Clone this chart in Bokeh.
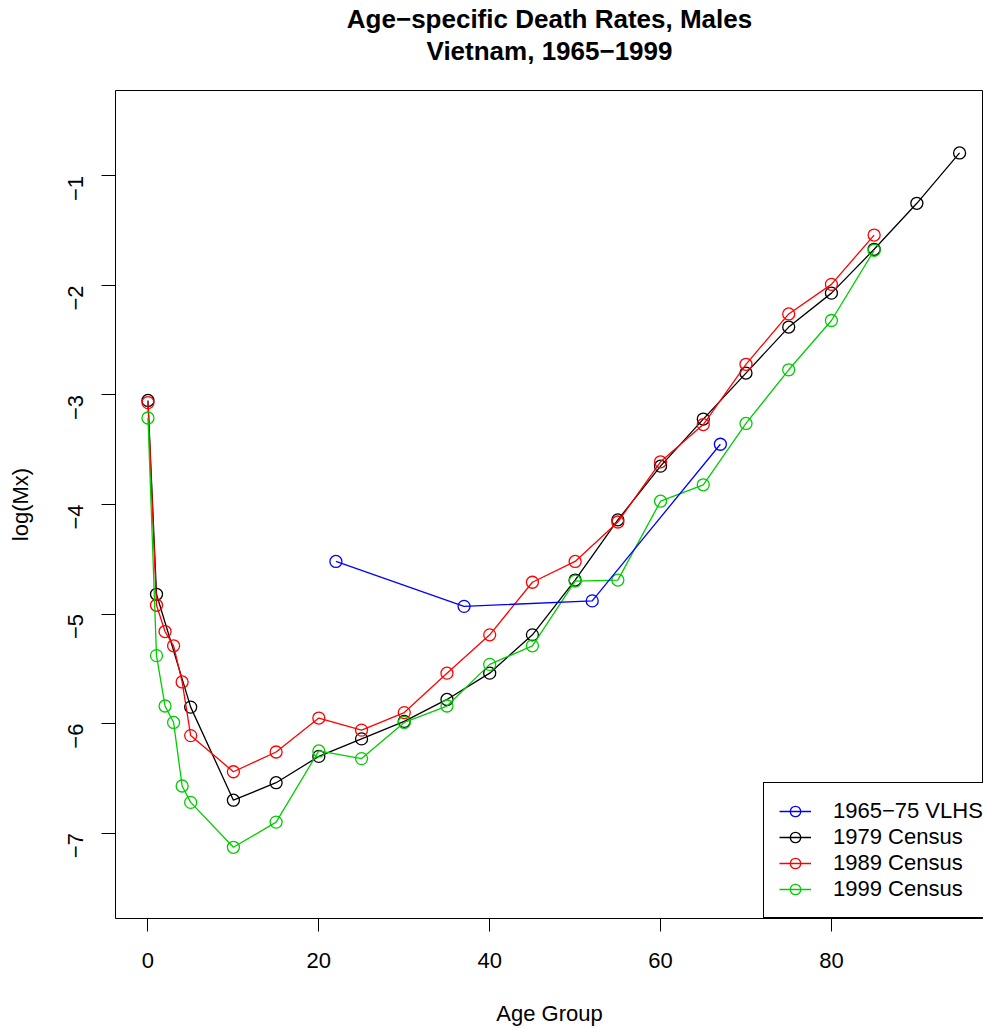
import math
from bokeh.plotting import figure
from bokeh.models import Range1d, FixedTicker, Legend, LegendItem, Title
from bokeh.embed import file_html
from bokeh.resources import INLINE

# ---- data ----
ages_vlhs = [22, 37, 52, 67]
mx_vlhs = [-4.52, -4.93, -4.88, -3.45]

ages_1979 = [0, 1, 5, 10, 15, 20, 25, 30, 35, 40, 45, 50, 55, 60, 65, 70, 75, 80, 85, 90, 95]
mx_1979 = [-3.05, -4.82, -5.85, -6.70, -6.54, -6.30, -6.14, -5.98, -5.78, -5.54, -5.19,
           -4.69, -4.14, -3.65, -3.22, -2.80, -2.38, -2.07, -1.67, -1.25, -0.79]

ages_1989 = [0, 1, 2, 3, 4, 5, 10, 15, 20, 25, 30, 35, 40, 45, 50, 55, 60, 65, 70, 75, 80, 85]
mx_1989 = [-3.07, -4.92, -5.16, -5.29, -5.62, -6.11, -6.44, -6.26, -5.95, -6.06, -5.90,
           -5.54, -5.19, -4.71, -4.52, -4.16, -3.61, -3.27, -2.72, -2.26, -1.99, -1.54]

ages_1999 = [0, 1, 2, 3, 4, 5, 10, 15, 20, 25, 30, 35, 40, 45, 50, 55, 60, 65, 70, 75, 80, 85]
mx_1999 = [-3.21, -5.38, -5.84, -5.99, -6.57, -6.72, -7.13, -6.90, -6.25, -6.32, -5.99,
           -5.84, -5.46, -5.29, -4.70, -4.69, -3.97, -3.82, -3.26, -2.77, -2.32, -1.68]

series_labels = ["1965\u221275 VLHS", "1979 Census", "1989 Census", "1999 Census"]
series_colors = ["#0000FF", "#000000", "#FF0000", "#00CD00"]

x_ticks = [0, 20, 40, 60, 80]
y_ticks = [-7, -6, -5, -4, -3, -2, -1]

title_line1 = "Age\u2212specific Death Rates, Males"
title_line2 = "Vietnam, 1965\u22121999"
x_label = "Age Group"
y_label = "log(Mx)"

FONT = "Liberation Sans"

p = figure(width=983, height=1028, output_backend="svg", toolbar_location=None,
           title=None,
           x_range=Range1d(-3.8, 97.8), y_range=Range1d(-7.78, -0.22),
           min_border_left=115, min_border_right=0, min_border_top=90, min_border_bottom=110)

p.background_fill_color = "white"
p.border_fill_color = "white"
p.outline_line_color = "black"
p.outline_line_width = 1
p.grid.visible = False

# spacer between frame and title block, then title lines (stacked outward)
p.add_layout(Title(text=" ", text_font_size="1px", standoff=22), "above")
p.add_layout(Title(text=title_line2, align="center", text_font=FONT, text_font_size="26px",
                   text_font_style="bold", text_color="black", standoff=0), "above")
p.add_layout(Title(text=title_line1, align="center", text_font=FONT, text_font_size="26px",
                   text_font_style="bold", text_color="black", standoff=0), "above")

# axes
for ax in (p.xaxis[0], p.yaxis[0]):
    ax.axis_line_color = None
    ax.major_tick_in = 0
    ax.major_tick_line_color = "black"
    ax.minor_tick_line_color = None
    ax.major_label_text_font = FONT
    ax.major_label_text_font_size = "22px"
    ax.major_label_text_color = "black"
    ax.axis_label_text_font = FONT
    ax.axis_label_text_font_size = "22px"
    ax.axis_label_text_font_style = "normal"
    ax.axis_label_text_color = "black"

p.xaxis.ticker = FixedTicker(ticks=x_ticks)
p.xaxis.major_tick_out = 13
p.xaxis.major_label_standoff = 21
p.xaxis.axis_label = x_label
p.xaxis.axis_label_standoff = 30

p.yaxis.ticker = FixedTicker(ticks=y_ticks)
p.yaxis.major_label_overrides = {t: ("\u2212" + str(abs(t)) if t < 0 else str(t)) for t in y_ticks}
p.yaxis.major_tick_out = 14
p.yaxis.major_label_orientation = math.pi / 2
p.yaxis.major_label_standoff = 26
p.yaxis.axis_label = y_label
p.yaxis.axis_label_standoff = 25

# series
data = [(ages_vlhs, mx_vlhs), (ages_1979, mx_1979), (ages_1989, mx_1989), (ages_1999, mx_1999)]
renderers = {}
for idx in [1, 2, 3, 0]:
    xs, ys = data[idx]
    c = series_colors[idx]
    l = p.line(xs, ys, line_color=c, line_width=1.3)
    s = p.scatter(xs, ys, marker="circle", size=12, fill_color=None, line_color=c, line_width=1.3)
    renderers[idx] = [l, s]

items = [LegendItem(label=series_labels[i], renderers=renderers[i]) for i in range(4)]
legend = Legend(items=items, location=(648, 0), orientation="vertical",
                border_line_color="black", border_line_width=1, border_line_alpha=1,
                background_fill_color="white", background_fill_alpha=1,
                padding=15, spacing=0, margin=0,
                label_text_font=FONT, label_text_font_size="22px", label_text_color="black",
                label_height=26, glyph_height=26, glyph_width=32, label_standoff=22)
p.add_layout(legend)

open("out.html", "w").write(file_html(p, INLINE))
